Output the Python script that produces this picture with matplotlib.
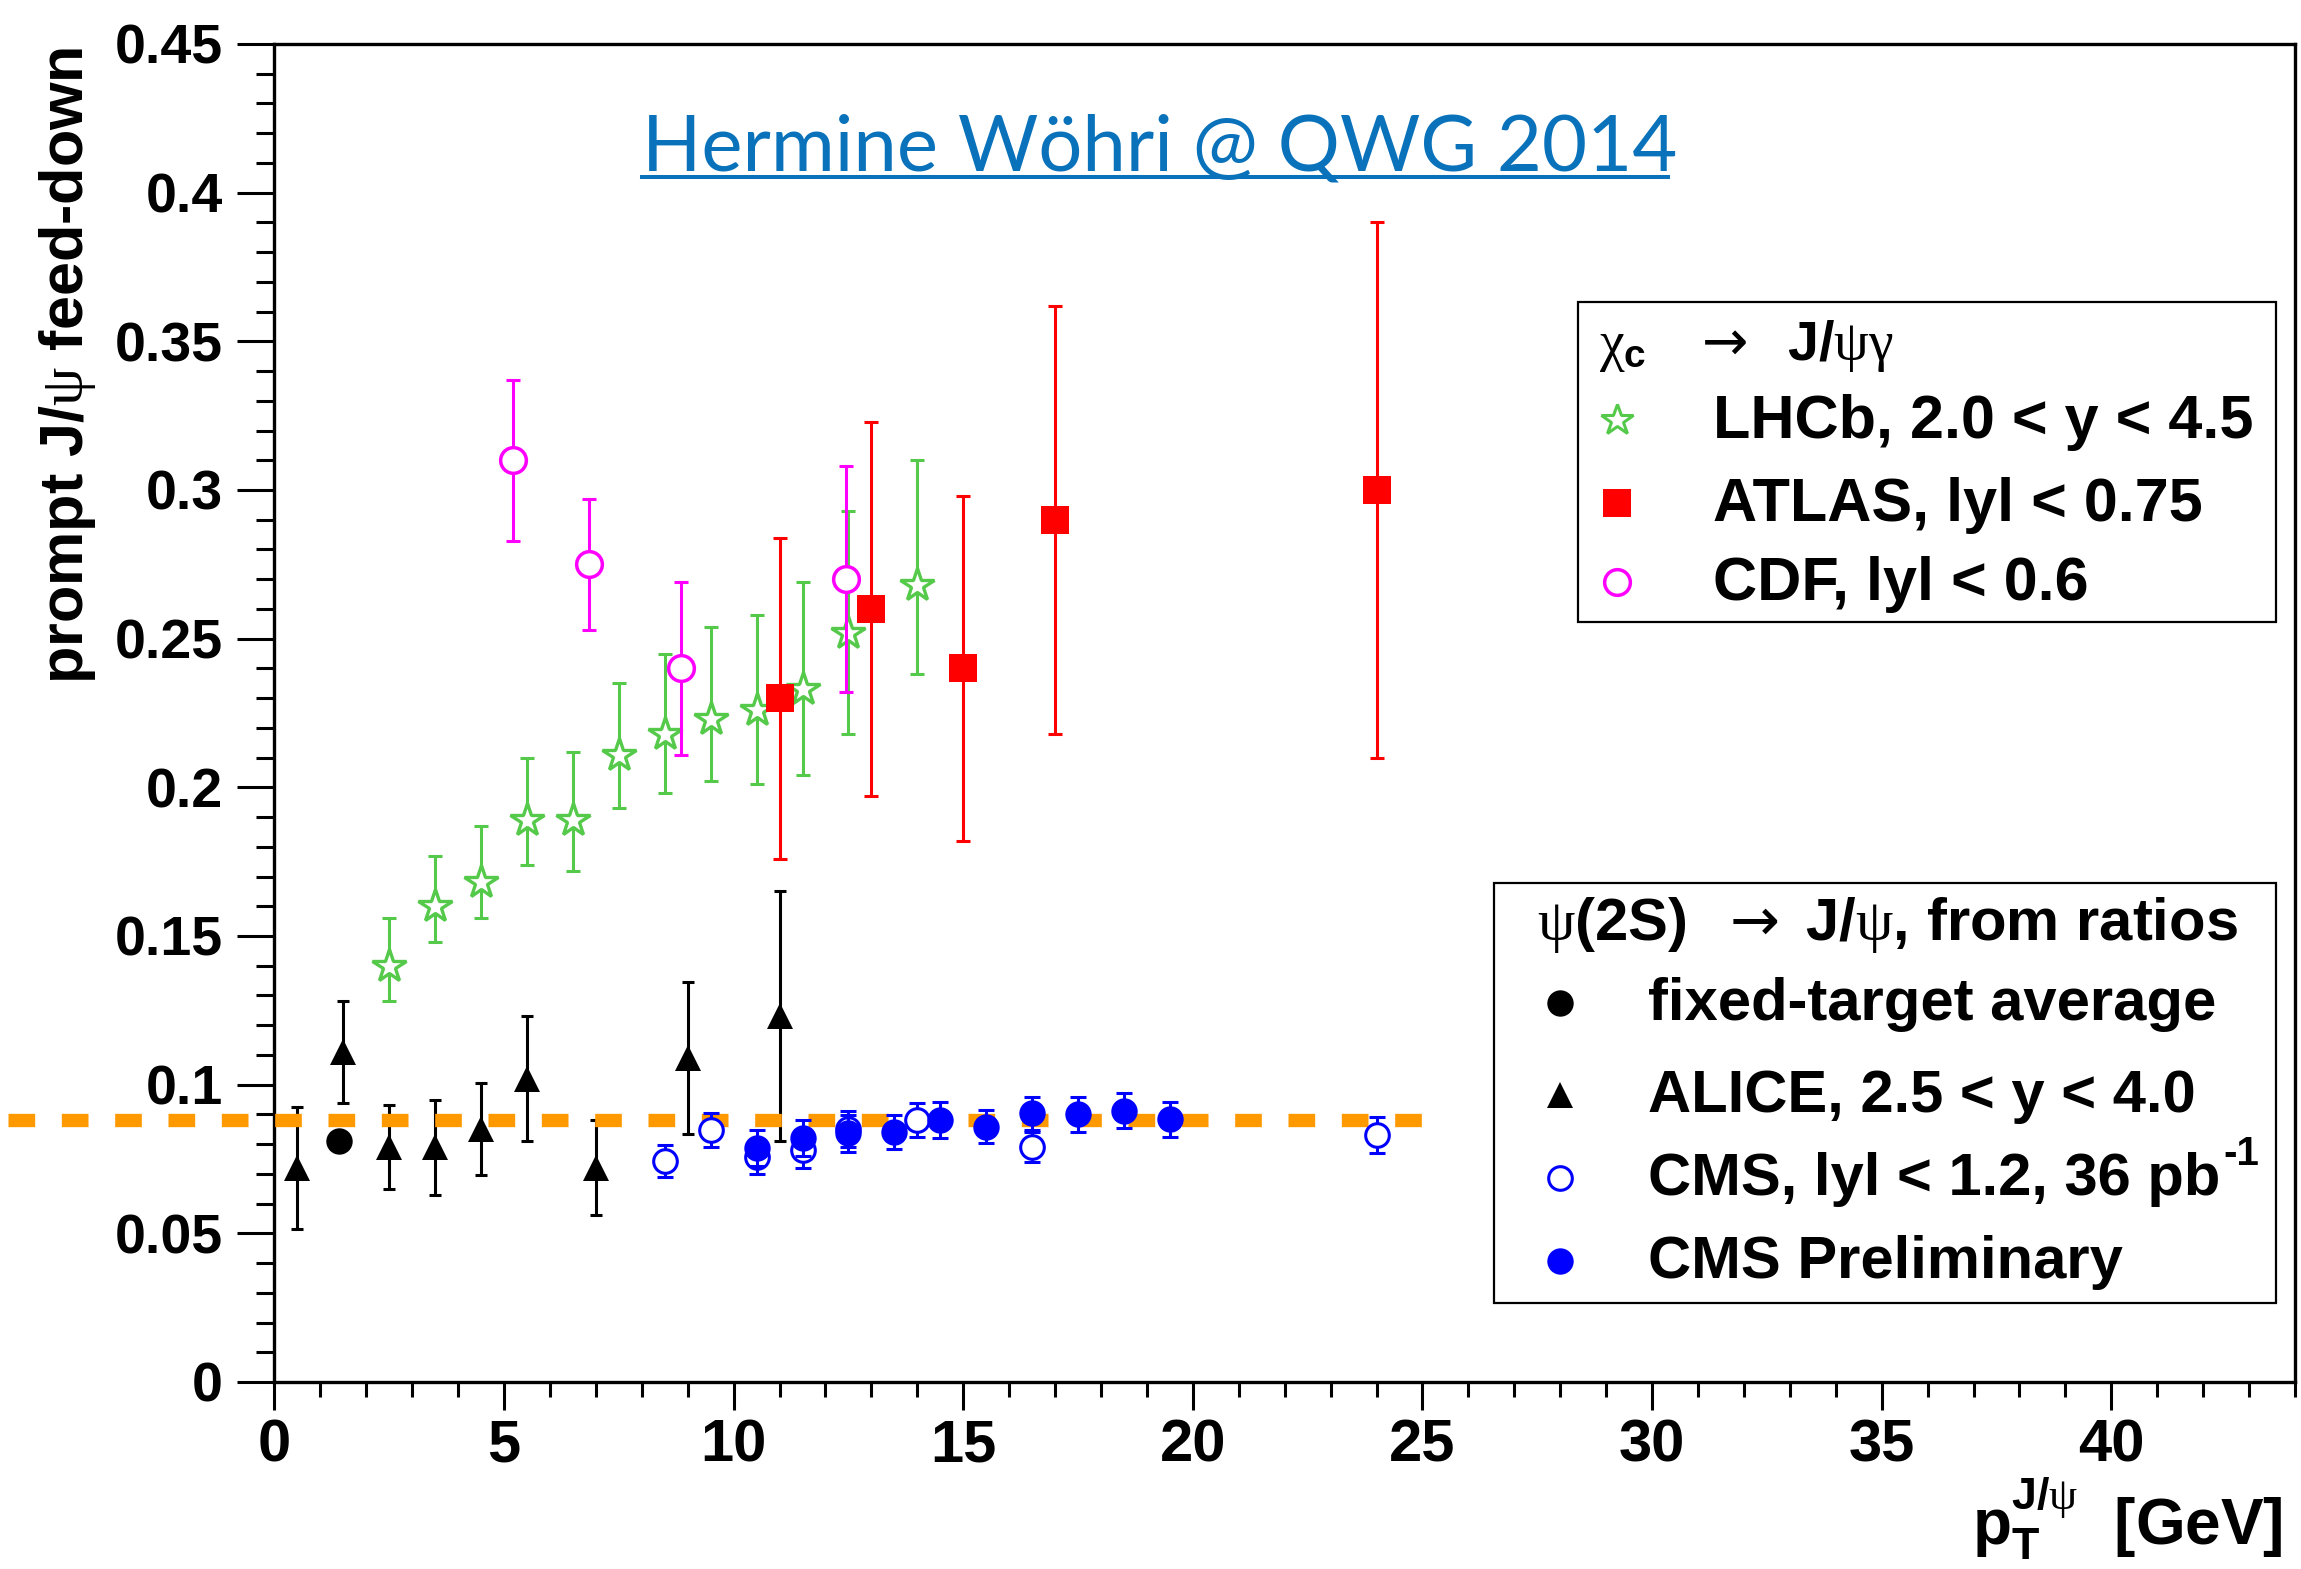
# J/psi feed-down fractions vs pT (chi_c and psi(2S) contributions)
import matplotlib
matplotlib.use('Agg')
import matplotlib.pyplot as plt
from matplotlib.lines import Line2D
from matplotlib.patches import Rectangle
from matplotlib.ticker import MultipleLocator, FormatStrFormatter

plt.rcParams['font.family'] = ['Liberation Sans', 'DejaVu Sans']
plt.rcParams['font.weight'] = 'bold'
plt.rcParams['mathtext.fontset'] = 'custom'
# greek letters and arrows are thin (symbol font) in the original
plt.rcParams['mathtext.rm'] = 'DejaVu Sans:weight=normal'
plt.rcParams['mathtext.it'] = 'Liberation Serif:weight=normal'
plt.rcParams['mathtext.bf'] = 'Liberation Sans:weight=bold'

# ---- chi_c -> J/psi gamma ----
lhcb_pt = [2.5, 3.5, 4.5, 5.5, 6.5, 7.5, 8.5, 9.5, 10.5, 11.5, 12.5, 14.0]
lhcb_val = [0.140, 0.160, 0.168, 0.189, 0.189, 0.211, 0.218, 0.223, 0.226, 0.233, 0.252, 0.268]
lhcb_lo = [0.012, 0.012, 0.012, 0.015, 0.017, 0.018, 0.020, 0.021, 0.025, 0.029, 0.034, 0.030]
lhcb_hi = [0.016, 0.017, 0.019, 0.021, 0.023, 0.024, 0.027, 0.031, 0.032, 0.036, 0.041, 0.042]

atlas_pt = [11, 13, 15, 17, 24]
atlas_val = [0.230, 0.260, 0.240, 0.290, 0.300]
atlas_err = [0.054, 0.063, 0.058, 0.072, 0.090]

cdf_pt = [5.2, 6.85, 8.85, 12.45]
cdf_val = [0.310, 0.275, 0.240, 0.270]
cdf_err = [0.027, 0.022, 0.029, 0.038]

# ---- psi(2S) -> J/psi ----
ft_pt = [1.4]
ft_val = [0.081]

alice_pt = [0.5, 1.5, 2.5, 3.5, 4.5, 5.5, 7, 9, 11]
alice_val = [0.072, 0.111, 0.079, 0.079, 0.085, 0.102, 0.072, 0.109, 0.123]
alice_err = [0.0205, 0.017, 0.014, 0.016, 0.0155, 0.021, 0.016, 0.0255, 0.042]

cms_pt = [8.5, 9.5, 10.5, 11.5, 12.5, 14, 16.5, 24]
cms_val = [0.0743, 0.0848, 0.0758, 0.078, 0.085, 0.0881, 0.0791, 0.0831]
cms_err = [0.0053, 0.0056, 0.006, 0.006, 0.006, 0.0057, 0.005, 0.006]

cmsp_pt = [10.5, 11.5, 12.5, 13.5, 14.5, 15.5, 16.5, 17.5, 18.5, 19.5]
cmsp_val = [0.0786, 0.082, 0.0836, 0.0842, 0.0881, 0.0859, 0.0904, 0.090, 0.0913, 0.0883]
cmsp_err = [0.006, 0.006, 0.0062, 0.0057, 0.006, 0.0056, 0.0055, 0.006, 0.006, 0.0059]

# average line
avg_x = [-5.8, 25.0]
avg_y = 0.088

green = '#55c94a'
blue = '#0000ff'
magenta = '#ff00ff'
orange = '#ff9900'
link_blue = '#0a72ba'

W, H = 2301, 1569
fig = plt.figure(figsize=(W / 100, H / 100), dpi=100)


def fpos(x, y):
	# pixel position of the original picture -> figure fraction
	return x / W, 1 - y / H


ax = fig.add_axes([274.4 / W, 1 - 1382 / H, (2295 - 274.4) / W, (1382 - 44) / H])


def punkte(x, y, err, color, marker, ms, mfc, mew, capsize, z):
	# error bars first, marker on top of them
	ax.errorbar(x, y, yerr=err, fmt='none', ecolor=color, elinewidth=2.2,
				capsize=capsize, capthick=2.2, zorder=z)
	ax.plot(x, y, linestyle='none', marker=marker, markersize=ms, markerfacecolor=mfc,
			markeredgecolor=color, markeredgewidth=mew, zorder=z + 0.1)


punkte(lhcb_pt, lhcb_val, [lhcb_lo, lhcb_hi], green, '*', 25, 'white', 2.4, 5, 3)
punkte(cdf_pt, cdf_val, cdf_err, magenta, 'o', 18.5, 'white', 2.5, 4.7, 4)
punkte(atlas_pt, atlas_val, atlas_err, 'red', 's', 20, 'red', 0, 4.7, 5)

punkte(alice_pt, alice_val, alice_err, 'black', '^', 19, 'black', 0, 4.3, 3)
ax.plot(ft_pt, ft_val, 'o', ms=19, color='black', mew=0, zorder=3)

ax.plot(avg_x, [avg_y, avg_y], color=orange, lw=9.6, linestyle=(0, (2, 2)),
		dash_capstyle='butt', clip_on=False, zorder=4)

punkte(cms_pt, cms_val, cms_err, blue, 'o', 17, 'white', 2.2, 5.5, 5)
punkte(cmsp_pt, cmsp_val, cmsp_err, blue, 'o', 19, blue, 0, 5.5, 6)

ax.set_xlim(0, 44)
ax.set_ylim(0, 0.45)
ax.xaxis.set_major_locator(MultipleLocator(5))
ax.xaxis.set_minor_locator(MultipleLocator(1))
ax.yaxis.set_major_locator(MultipleLocator(0.05))
ax.yaxis.set_minor_locator(MultipleLocator(0.01))
ax.yaxis.set_major_formatter(FormatStrFormatter('%g'))
ax.tick_params(axis='both', which='both', direction='out', width=2.2, top=False, right=False)
ax.tick_params(axis='y', which='major', length=27, pad=10, labelsize=40)
ax.tick_params(axis='y', which='minor', length=13)
ax.tick_params(axis='x', which='major', length=20, pad=6, labelsize=43)
ax.tick_params(axis='x', which='minor', length=11)
for s in ax.spines.values():
	s.set_linewidth(2.4)

# axis titles
fig.text(*fpos(68, 47), r'prompt J/$\psi$ feed-down', rotation=90, ha='center', va='top', fontsize=44)
fig.text(*fpos(2283, 1545), r'$\mathbf{p}_{\mathbf{T}}^{\mathbf{J/}\psi}$  [GeV]', ha='right',
		 va='baseline', fontsize=46)

# talk reference
fig.text(*fpos(642, 171), 'Hermine Wöhri @ QWG 2014', family='Lato', fontweight='normal',
		 fontsize=56, color=link_blue, ha='left', va='baseline')
fig.add_artist(Line2D([642 / W, 1668 / W], [1 - 177 / H, 1 - 177 / H], color=link_blue, lw=2.9))

# legend 1: chi_c
fig.add_artist(Rectangle(fpos(1578, 622), (2276 - 1578) / W, (622 - 302) / H, fill=False,
						 ec='black', lw=1.6, transform=fig.transFigure))
fig.text(*fpos(1599, 360), r'$\chi_{\mathbf{c}}$   $\rightarrow$  J/$\psi\gamma$', fontsize=40,
		 ha='left', va='baseline')
leg1 = [
	('*', dict(ms=23.5, mfc='white', mec=green, mew=2.2), 'LHCb, 2.0 < y < 4.5', 438),
	('s', dict(ms=20, mfc='red', mec='red', mew=0), 'ATLAS, lyl < 0.75', 521),
	('o', dict(ms=18.5, mfc='white', mec=magenta, mew=2.5), 'CDF, lyl < 0.6', 600),
]
for m, kw, label, base in leg1:
	fig.add_artist(Line2D([1617 / W], [1 - (base - 18) / H], marker=m, linestyle='none', **kw))
	fig.text(*fpos(1713, base), label, fontsize=44, ha='left', va='baseline')

# legend 2: psi(2S)
fig.add_artist(Rectangle(fpos(1494, 1303), (2276 - 1494) / W, (1303 - 883) / H, fill=False,
						 ec='black', lw=1.6, transform=fig.transFigure))
fig.text(*fpos(1537, 940), r'$\psi$(2S)  $\rightarrow$ J/$\psi$, from ratios', fontsize=43,
		 ha='left', va='baseline')
leg2 = [
	('o', dict(ms=19, mfc='black', mec='black', mew=0), 'fixed-target average', 1020),
	('^', dict(ms=19, mfc='black', mec='black', mew=0), 'ALICE, 2.5 < y < 4.0', 1112),
	('o', dict(ms=17, mfc='white', mec=blue, mew=2.2), 'CMS, lyl < 1.2, 36 pb', 1195),
	('o', dict(ms=19, mfc=blue, mec=blue, mew=0), 'CMS Preliminary', 1278),
]
renderer = fig.canvas.get_renderer()
for m, kw, label, base in leg2:
	fig.add_artist(Line2D([1560 / W], [1 - (base - 17) / H], marker=m, linestyle='none', **kw))
	t = fig.text(*fpos(1648, base), label, fontsize=43, ha='left', va='baseline')
	if label.endswith('pb'):
		# superscript -1 right after "pb"
		bb = t.get_window_extent(renderer)
		fig.text((bb.x1 + 3) / W, 1 - (base - 30) / H, '-1', fontsize=29, ha='left', va='baseline')

fig.savefig('out.png', dpi=100)
